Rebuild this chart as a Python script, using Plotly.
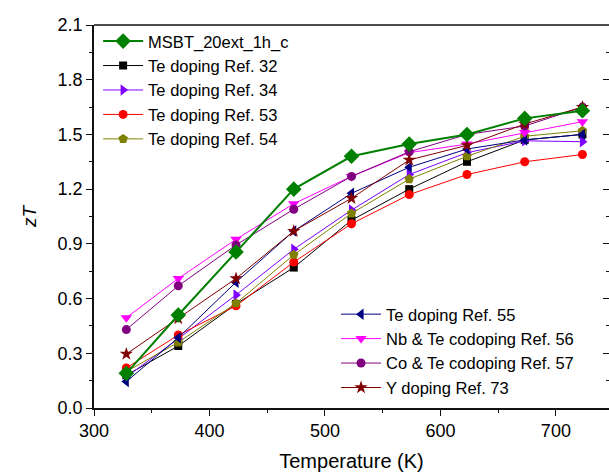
import plotly.graph_objects as go

# Temperatures (K) at which zT was reported
temperature = [328, 373, 423, 473, 523, 573, 623, 673, 723]

# zT values for each sample / reference
zt_msbt = [0.19, 0.51, 0.855, 1.20, 1.38, 1.447, 1.50, 1.588, 1.63]
zt_ref32 = [0.18, 0.34, 0.57, 0.77, 1.03, 1.20, 1.35, 1.47, 1.50]
zt_ref34 = [0.17, 0.38, 0.62, 0.87, 1.085, 1.28, 1.40, 1.465, 1.46]
zt_ref53 = [0.22, 0.40, 0.56, 0.80, 1.01, 1.17, 1.28, 1.35, 1.39]
zt_ref54 = [0.20, 0.36, 0.574, 0.84, 1.067, 1.255, 1.38, 1.49, 1.52]
zt_ref55 = [0.145, 0.385, 0.69, 0.97, 1.177, 1.32, 1.42, 1.47, 1.50]
zt_ref56 = [0.495, 0.71, 0.925, 1.12, 1.27, 1.40, 1.447, 1.51, 1.57]
zt_ref57 = [0.43, 0.67, 0.894, 1.09, 1.27, 1.405, 1.50, 1.546, 1.65]
zt_ref73 = [0.296, 0.49, 0.71, 0.97, 1.15, 1.36, 1.44, 1.557, 1.65]

y_ticks = [0.0, 0.3, 0.6, 0.9, 1.2, 1.5, 1.8, 2.1]
x_ticks = [300, 400, 500, 600, 700]

series = [
    ("MSBT_20ext_1h_c", zt_msbt, "#008000", "diamond", 12, 2.0, "legend"),
    ("Te doping Ref. 32", zt_ref32, "#000000", "square", 8, 1.0, "legend"),
    ("Te doping Ref. 34", zt_ref34, "#8000FF", "triangle-right", 10, 1.0, "legend"),
    ("Te doping Ref. 53", zt_ref53, "#FF0000", "circle", 9, 1.0, "legend"),
    ("Te doping Ref. 54", zt_ref54, "#808000", "pentagon", 10, 1.0, "legend"),
    ("Te doping Ref. 55", zt_ref55, "#000080", "triangle-left", 10, 1.0, "legend2"),
    ("Nb & Te codoping Ref. 56", zt_ref56, "#FF00FF", "triangle-down", 10, 1.0, "legend2"),
    ("Co & Te codoping Ref. 57", zt_ref57, "#800080", "circle", 9, 1.0, "legend2"),
    ("Y doping Ref. 73", zt_ref73, "#800000", "star", 10, 1.0, "legend2"),
]

fig = go.Figure()

# Reference curves first so the main sample is drawn on top
names = [s[0] for s in series]
for name, vals, color, symbol, size, width, leg in series[1:] + series[:1]:
    fig.add_trace(go.Scatter(
        x=temperature, y=vals, name=name, mode="lines+markers",
        line=dict(color=color, width=width),
        marker=dict(symbol=symbol, size=size, color=color, line=dict(width=0)),
        legend=leg, legendrank=names.index(name) + 1,
    ))

# Invisible trace carrying the inward ticks on the right-hand side
fig.add_trace(go.Scatter(x=[300], y=[0], yaxis="y2", mode="markers",
                         marker=dict(opacity=0), showlegend=False, hoverinfo="skip"))

font_family = "Liberation Sans, Arial, sans-serif"
legend_style = dict(
    bgcolor="rgba(0,0,0,0)", font=dict(size=16.5, color="#000000"),
    tracegroupgap=0, itemwidth=40, traceorder="normal",
)

fig.update_layout(
    width=609, height=474,
    margin=dict(l=94, r=0, t=25, b=66),
    plot_bgcolor="white", paper_bgcolor="white",
    font=dict(family=font_family, color="#000000", size=18),
    showlegend=True,
    legend=dict(x=0.008, y=1.003, xanchor="left", yanchor="top", **legend_style),
    legend2=dict(x=0.47, y=0.29, xanchor="left", yanchor="top", **legend_style),
    xaxis=dict(
        range=[300, 746], tickvals=x_ticks, ticktext=[str(v) for v in x_ticks],
        showgrid=False, zeroline=False,
        showline=True, linecolor="#111111", linewidth=1.5, mirror=False,
        ticks="outside", ticklen=6, tickwidth=1.3, tickcolor="#111111",
        minor=dict(dtick=50, tick0=300, ticks="outside", ticklen=3.5,
                   tickcolor="#111111", tickwidth=1.2),
        tickfont=dict(size=18),
        title=dict(text="Temperature (K)", font=dict(size=20), standoff=14),
    ),
    yaxis=dict(
        range=[0, 2.1], tickvals=y_ticks, ticktext=[f"{v:.1f}" for v in y_ticks],
        showgrid=False, zeroline=False,
        showline=True, linecolor="#111111", linewidth=1.5,
        ticks="outside", ticklen=6, tickwidth=1.3, tickcolor="#111111",
        minor=dict(dtick=0.15, tick0=0, ticks="outside", ticklen=3.5,
                   tickcolor="#111111", tickwidth=1.2),
        tickfont=dict(size=18),
        title=dict(text="<i>zT</i>", font=dict(size=19), standoff=16),
    ),
    yaxis2=dict(
        range=[0, 2.1], overlaying="y", side="right", anchor="x",
        tickvals=y_ticks, showticklabels=False, showgrid=False, zeroline=False,
        showline=False,
        ticks="inside", ticklen=6, tickwidth=1.3, tickcolor="#111111",
        minor=dict(dtick=0.15, tick0=0, ticks="inside", ticklen=3.5,
                   tickcolor="#111111", tickwidth=1.2),
    ),
    # Top frame line of the plotting area
    shapes=[dict(type="line", xref="paper", yref="paper", x0=0, x1=1, y0=1, y1=1,
                 line=dict(color="#111111", width=1.5))],
)

fig.write_html("out.html")
